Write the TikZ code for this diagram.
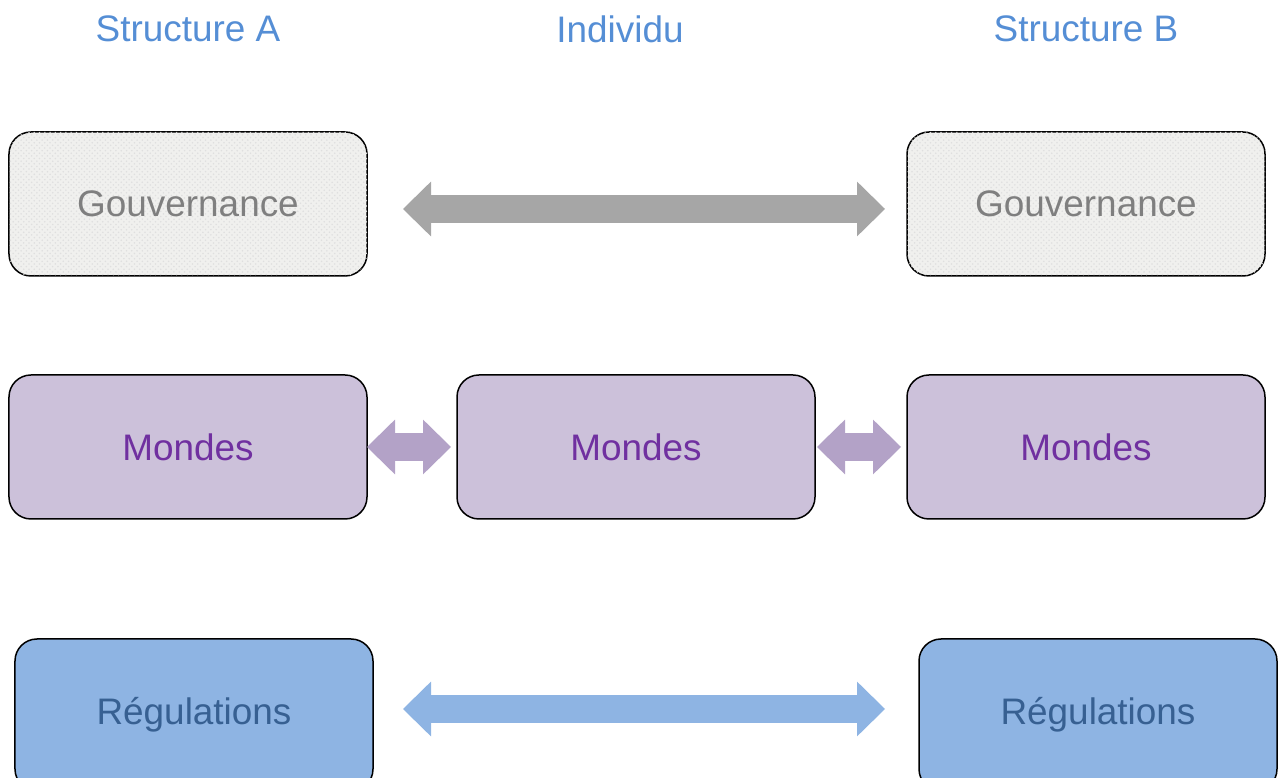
\documentclass[tikz,border=0pt]{standalone}
\usepackage{fontspec}
\setmainfont{Liberation Sans}
\usetikzlibrary{positioning, arrows.meta, patterns}
\definecolor{head_blue}{RGB}{85, 142, 213}
\definecolor{gov_text}{RGB}{127, 127, 127}
\definecolor{gov_fill}{RGB}{240, 240, 238}
\definecolor{gov_arrow}{RGB}{166, 166, 166}
\definecolor{monde_text}{RGB}{112, 48, 160}
\definecolor{monde_fill}{RGB}{204, 193, 218}
\definecolor{monde_arrow}{RGB}{179, 162, 199}
\definecolor{regul_text}{RGB}{55, 96, 146}
\definecolor{regul_fill}{RGB}{142, 180, 227}

\begin{document}
\begin{tikzpicture}[
    font=\fontsize{21}{25}\selectfont,
    % Standard box style
    box/.style={
        draw=black,
        line width=0.03cm,
        rectangle,
        rounded corners=0.44cm,
        align=center,
        inner sep=0pt,
        outer sep=0pt,
        minimum width=7.16cm,
        minimum height=2.88cm
    },
    gov_box/.style={box, fill=gov_fill, text=gov_text,
        postaction={pattern=crosshatch dots, pattern color=gray!25}},
    monde_box/.style={box, fill=monde_fill, text=monde_text},
    regul_box/.style={box, fill=regul_fill, text=regul_text, minimum height=3.04cm},
    heading/.style={text=head_blue},
    % Broad block arrows
    block_arrow/.style={
        line width=0.56cm,
        {Triangle[length=0.56cm, width=1.09cm, line width=1pt]}-{Triangle[length=0.56cm, width=1.09cm, line width=1pt]}
    }
]

    \useasboundingbox (0,0) rectangle (25.6,15.56);
    \clip (0,0) rectangle (25.6,15.56);

    % ==========================================
    % 1. GOUVERNANCE
    % ==========================================

    \node (govA) [gov_box] at (3.76, 11.48) {Gouvernance};
    \node (govB) [gov_box, right=10.8cm of govA] {Gouvernance};

    % ==========================================
    % 2. MONDES
    % ==========================================

    \node (mondeA) [monde_box, below=1.98cm of govA] {Mondes};
    \node (mondeI) [monde_box, right=1.8cm of mondeA] {Mondes};
    \node (mondeB) [monde_box, right=1.84cm of mondeI] {Mondes};

    % ==========================================
    % 3. REGULATIONS
    % ==========================================

    \node (regulA) [regul_box, below=2.4cm of mondeA, xshift=0.12cm] {Régulations};
    \node (regulB) [regul_box, right=10.92cm of regulA] {Régulations};

    % Column headings
    \node (headA) [heading] at (3.76, 14.98) {Structure A};
    \node (headI) [heading] at (12.4, 14.98) {Individu};
    \node (headB) [heading] at (21.72, 14.98) {Structure B};

    % Exchange arrows
    \draw [block_arrow, gov_arrow, shorten <=0.72cm, shorten >=0.44cm]
        ([yshift=-0.1cm]govA.east) -- ([yshift=-0.1cm]govB.west);
    \draw [block_arrow, monde_arrow, shorten >=0.12cm] (mondeA.east) -- (mondeI.west);
    \draw [block_arrow, monde_arrow, shorten <=0.04cm, shorten >=0.12cm] (mondeI.east) -- (mondeB.west);
    \draw [block_arrow, regul_fill, shorten <=0.6cm, shorten >=0.68cm]
        ([yshift=0.12cm]regulA.east) -- ([yshift=0.12cm]regulB.west);

\end{tikzpicture}
\end{document}
